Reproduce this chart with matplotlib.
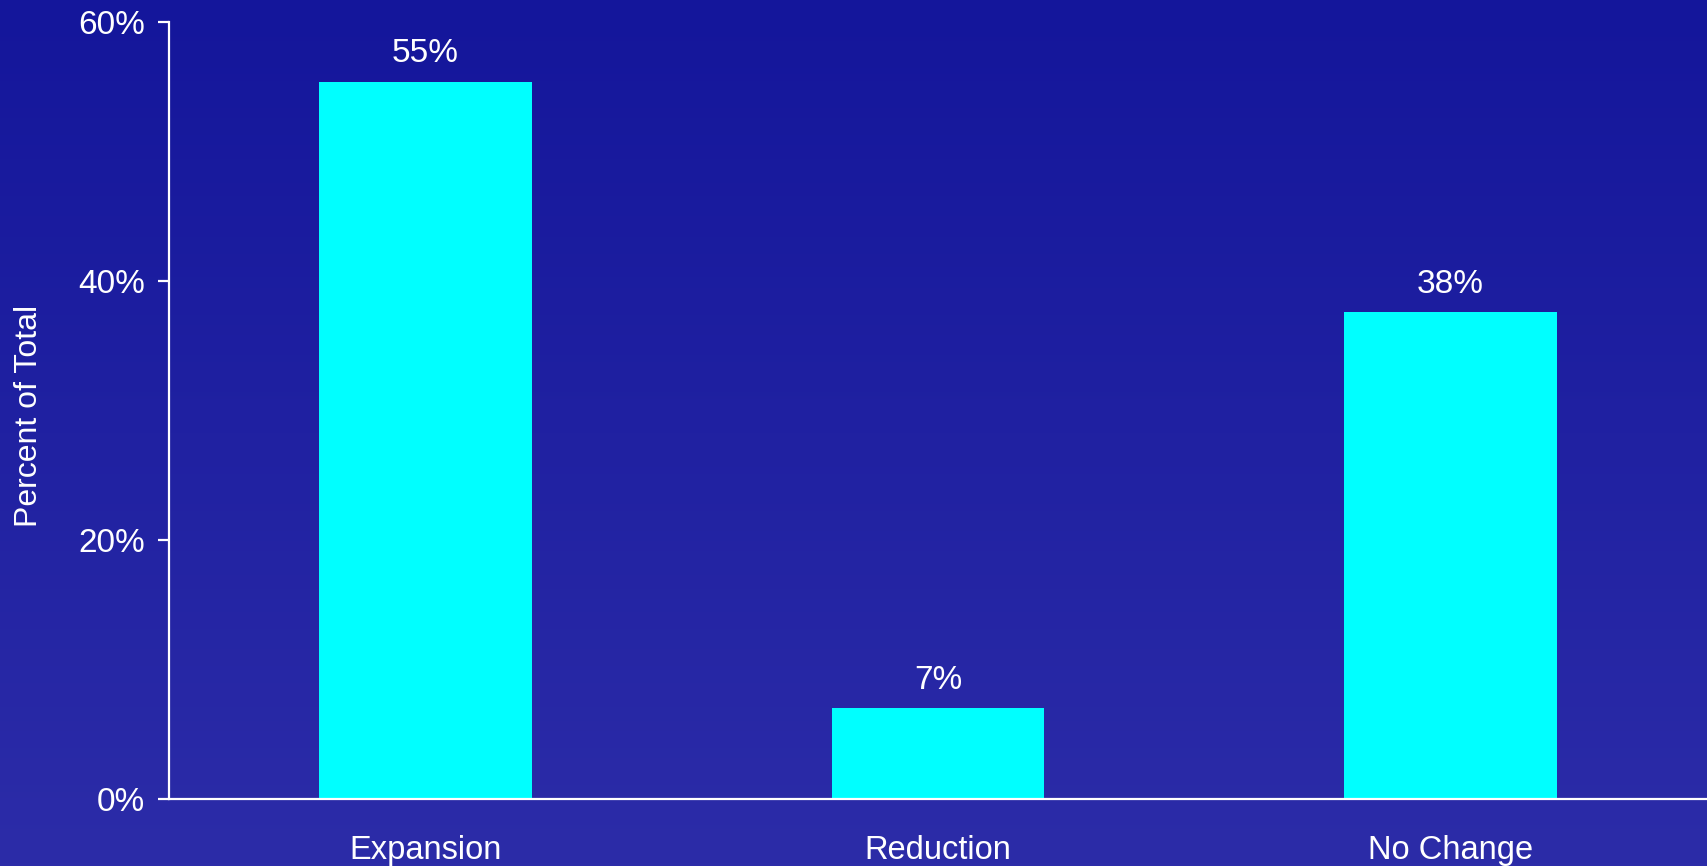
import numpy as np
import matplotlib
matplotlib.use("Agg")
import matplotlib.pyplot as plt

categories = ["Expansion", "Reduction", "No Change"]
values = [55.4, 7.0, 37.6]
value_labels = ["55%", "7%", "38%"]
yticks = [0, 20, 40, 60]
ytick_labels = ["0%", "20%", "40%", "60%"]

plt.rcParams['font.family'] = ['Liberation Sans', 'DejaVu Sans']

W, H = 1707, 866
fig = plt.figure(figsize=(W / 100, H / 100), dpi=100)

# gradient background
bg = fig.add_axes([0, 0, 1, 1], zorder=-10)
top = np.array([20, 22, 155]) / 255
bot = np.array([44, 44, 168]) / 255
t = np.linspace(0, 1, 256)[:, None]
grad = top[None, :] * (1 - t) + bot[None, :] * t
bg.imshow(grad[:, None, :].repeat(2, axis=1), aspect='auto', extent=[0, 1, 0, 1])
bg.set_axis_off()

left = 169 / W
bottom = 1 - 799 / H
height = (799 - 22) / H
ax = fig.add_axes([left, bottom, 1 - left, height])
ax.patch.set_alpha(0)

x = np.arange(len(categories))
ax.bar(x, values, width=0.415, color='#00FFFF', zorder=2)
for xi, v, lab in zip(x, values, value_labels):
    ax.annotate(lab, (xi, v), xytext=(0, 9), textcoords='offset points',
                ha='center', va='bottom', color='white', fontsize=24)

ax.set_xlim(-0.5, 2.5)
ax.set_ylim(0, 60)
ax.set_yticks(yticks)
ax.set_yticklabels(ytick_labels)
ax.set_xticks(x)
ax.set_xticklabels(categories)

for s in ['top', 'right']:
    ax.spines[s].set_visible(False)
for s in ['left', 'bottom']:
    ax.spines[s].set_color('white')
    ax.spines[s].set_linewidth(1.6)

ax.tick_params(axis='y', colors='white', labelsize=24, length=8, width=1.6, pad=9)
ax.tick_params(axis='x', colors='white', labelsize=23.5, length=0, pad=26)
fig.text(29 / W, 1 - 416 / H, "Percent of Total", color='white', fontsize=23,
         rotation=90, ha='center', va='center')

fig.savefig("out.png", dpi=100)
